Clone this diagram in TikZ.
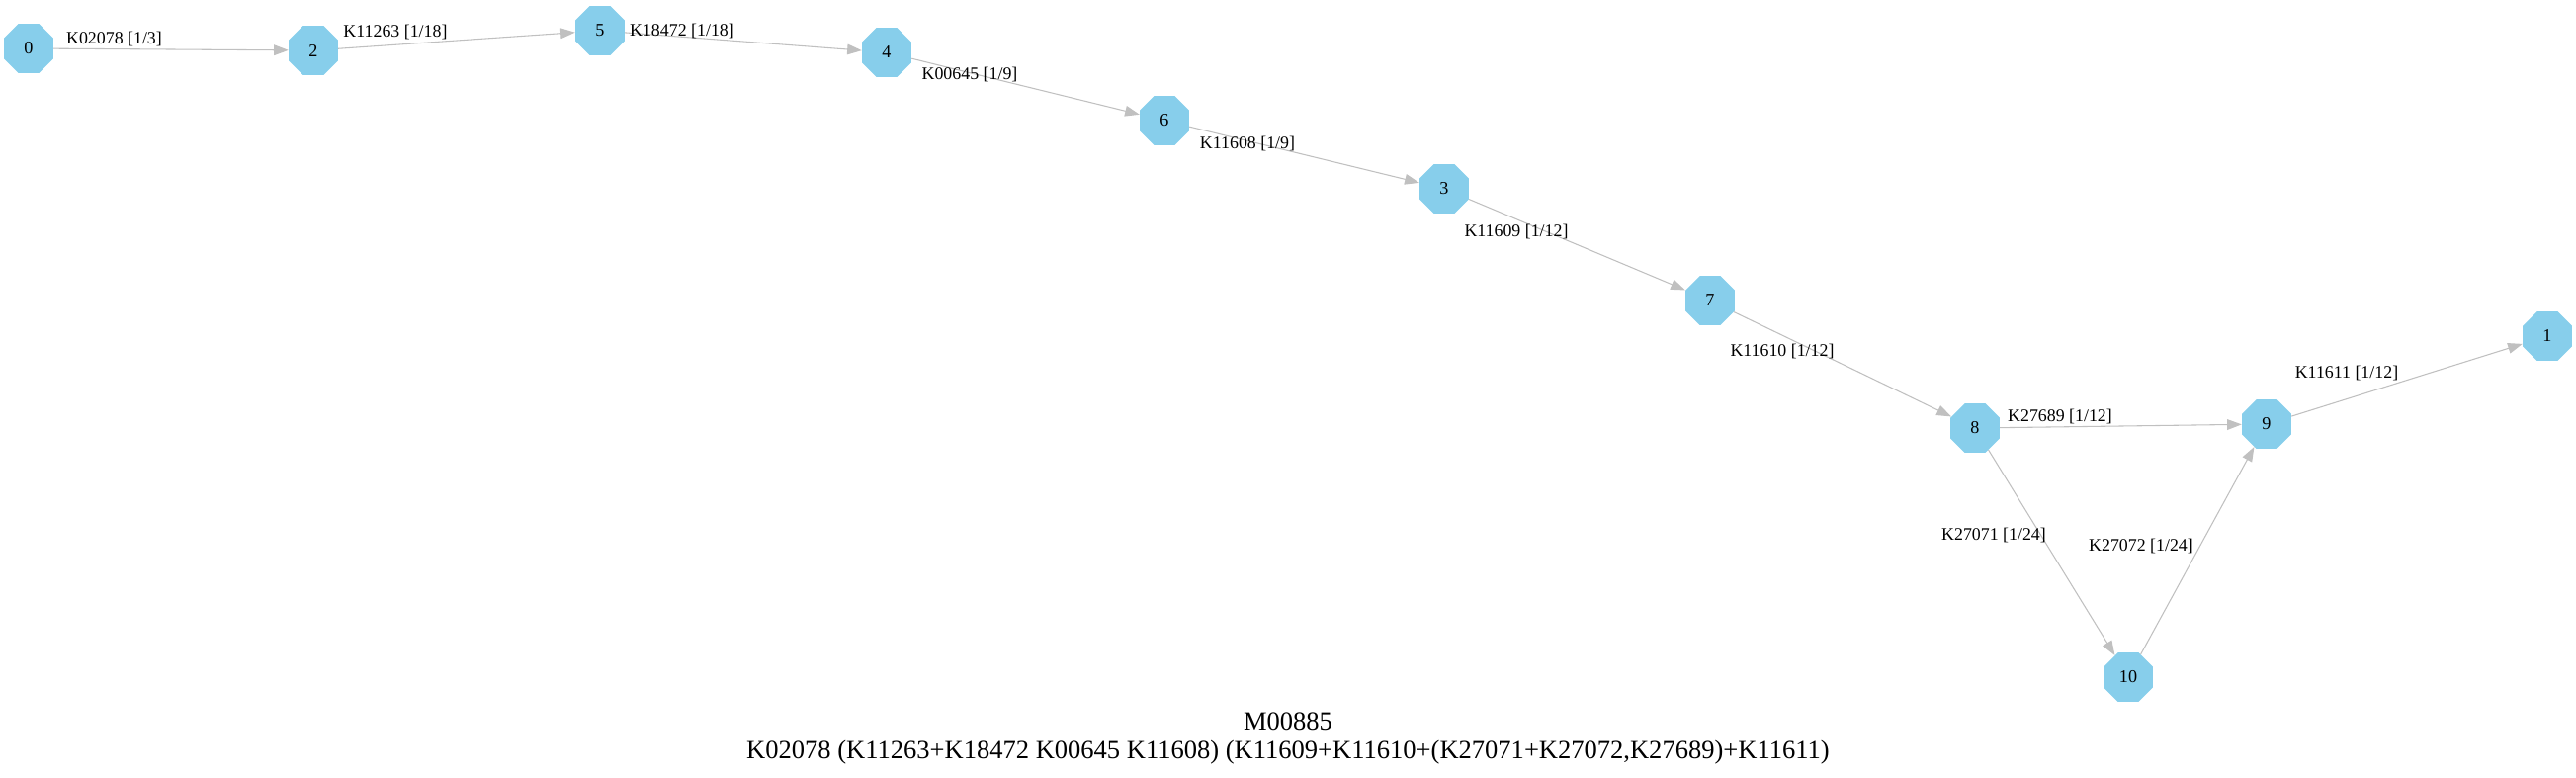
\documentclass[tikz,border=0pt]{standalone}
\usepackage{fontspec}
\setmainfont{Liberation Serif}
\usetikzlibrary{shapes.geometric,arrows.meta}
\definecolor{nodeblue}{HTML}{87CEEB}
\definecolor{edgegray}{HTML}{C0C0C0}
\begin{document}
\begin{tikzpicture}[x=0.75pt,y=-0.75pt,
  oct/.style={regular polygon, regular polygon sides=8, minimum size=40.5pt, inner sep=0pt, fill=nodeblue, font=\fontsize{13.6pt}{16pt}\selectfont},
  conn/.style={draw=edgegray, line width=0.8pt, -{Triangle[length=11pt,width=8pt]}},
  elabel/.style={font=\fontsize{13.4pt}{16pt}\selectfont, inner sep=0pt},
  titletext/.style={font=\fontsize{19.9pt}{23pt}\selectfont, inner sep=0pt}
]
\useasboundingbox (0,0) rectangle (2606,786);
% nodes
\node[oct] (n0) at (29,49) {0};
\node[oct] (n2) at (317,51) {2};
\node[oct] (n5) at (607,31) {5};
\node[oct] (n4) at (897,53) {4};
\node[oct] (n6) at (1178,122) {6};
\node[oct] (n3) at (1461,191) {3};
\node[oct] (n7) at (1730,304) {7};
\node[oct] (n8) at (1998,433) {8};
\node[oct] (n9) at (2293,429) {9};
\node[oct] (n1) at (2577,340) {1};
\node[oct] (n10) at (2153,685) {10};
% edges
\draw[conn] (n0) -- (n2);
\draw[conn] (n2) -- (n5);
\draw[conn] (n5) -- (n4);
\draw[conn] (n4) -- (n6);
\draw[conn] (n6) -- (n3);
\draw[conn] (n3) -- (n7);
\draw[conn] (n7) -- (n8);
\draw[conn] (n8) -- (n9);
\draw[conn] (n9) -- (n1);
\draw[conn] (n8) -- (n10);
\draw[conn] (n10) -- (n9);
% edge labels
\node[elabel] (l02) at (115.5,39) {K02078 [1/3]};
\node[elabel] (l25) at (400,32) {K11263 [1/18]};
\node[elabel] (l54) at (690,31) {K18472 [1/18]};
\node[elabel] (l46) at (981,75) {K00645 [1/9]};
\node[elabel] (l63) at (1262,145) {K11608 [1/9]};
\node[elabel] (l37) at (1534,234) {K11609 [1/12]};
\node[elabel] (l78) at (1803,355) {K11610 [1/12]};
\node[elabel] (l89) at (2084,421) {K27689 [1/12]};
\node[elabel] (l810) at (2017,541) {K27071 [1/24]};
\node[elabel] (l109) at (2166,552) {K27072 [1/24]};
\node[elabel] (l91) at (2374,377) {K11611 [1/12]};
% title
\node[titletext] (t1) at (1303,730) {M00885};
\node[titletext] (t2) at (1303,761) {K02078 (K11263+K18472 K00645 K11608) (K11609+K11610+(K27071+K27072,K27689)+K11611)};
\end{tikzpicture}
\end{document}
